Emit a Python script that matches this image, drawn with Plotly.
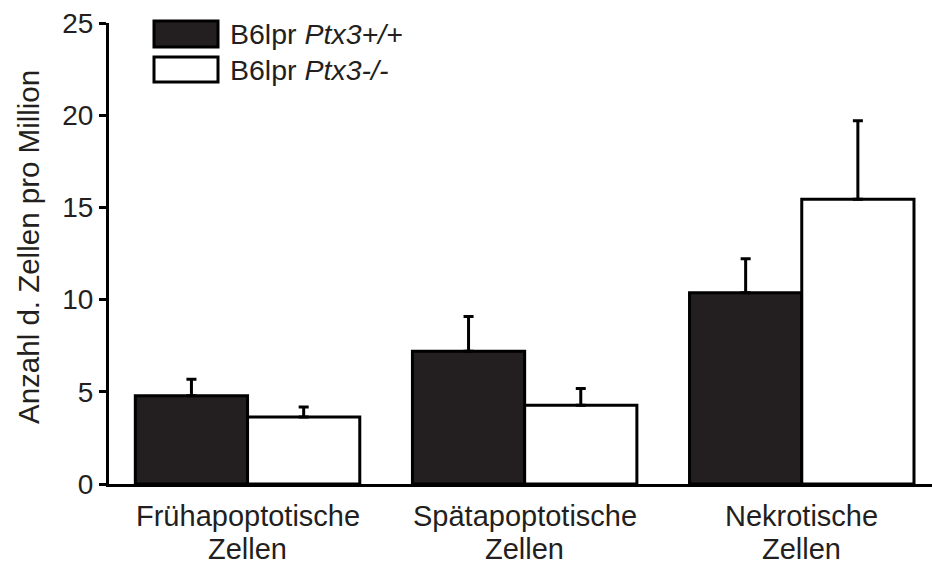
import plotly.graph_objects as go

cat_line1 = ["Frühapoptotische", "Spätapoptotische", "Nekrotische"]
cat_line2 = ["Zellen", "Zellen", "Zellen"]
categories = [f"{a} {b}" for a, b in zip(cat_line1, cat_line2)]
wt_values = [4.78, 7.20, 10.37]
wt_err = [0.90, 1.89, 1.84]
ko_values = [3.64, 4.27, 15.44]
ko_err = [0.54, 0.91, 4.26]
series_names = ["B6lpr <i>Ptx3+/+</i>", "B6lpr <i>Ptx3-/-</i>"]
y_ticks = [0, 5, 10, 15, 20, 25]
y_title = "Anzahl d. Zellen pro Million"

INK = "#231f20"
FONT = "Liberation Sans, Arial, sans-serif"
W, H = 932, 564
ML, MR, MT, MB = 109, 0, 23, 80

fig = go.Figure()
fig.add_trace(go.Bar(
    x=categories, y=wt_values, name=series_names[0],
    marker=dict(color=INK, line=dict(color="black", width=3)),
    error_y=dict(type="data", array=wt_err, arrayminus=[0] * len(wt_err),
                 symmetric=False, color="black", thickness=3, width=5),
    showlegend=False,
))
fig.add_trace(go.Bar(
    x=categories, y=ko_values, name=series_names[1],
    marker=dict(color="white", line=dict(color="black", width=3)),
    error_y=dict(type="data", array=ko_err, arrayminus=[0] * len(ko_err),
                 symmetric=False, color="black", thickness=3, width=5),
    showlegend=False,
))

pw, ph = W - ML - MR, H - MT - MB


def px_x(p):
    return (p - ML) / pw


def px_y(p):
    return (H - MB - p) / ph


# Legend swatches and labels
swatches = [("black", INK, 21, 47), ("black", "white", 57, 82)]
for (line_c, fill_c, y0, y1), label in zip(swatches, series_names):
    fig.add_shape(type="rect", xref="paper", yref="paper",
                  x0=px_x(154), x1=px_x(218), y0=px_y(y1), y1=px_y(y0),
                  line=dict(color=line_c, width=3), fillcolor=fill_c)
    fig.add_annotation(xref="paper", yref="paper", x=px_x(228), y=px_y((y0 + y1) / 2),
                       text=label, showarrow=False, xanchor="left", yanchor="middle",
                       font=dict(family=FONT, size=28.5, color=INK))

# Two-line category labels with tight line spacing
for cat, l1, l2 in zip(categories, cat_line1, cat_line2):
    for txt, ypx in ((l1, 516), (l2, 549)):
        fig.add_annotation(xref="x", yref="paper", x=cat, y=px_y(ypx),
                           text=txt, showarrow=False, xanchor="center", yanchor="middle",
                           font=dict(family=FONT, size=29, color=INK))

# Vertical y-axis title
fig.add_annotation(xref="paper", yref="paper", x=px_x(28), y=px_y(247),
                   text=y_title, textangle=-90, showarrow=False,
                   xanchor="center", yanchor="middle",
                   font=dict(family=FONT, size=29.5, color=INK))

fig.update_layout(
    width=W, height=H,
    margin=dict(l=ML, r=MR, t=MT, b=MB),
    paper_bgcolor="white", plot_bgcolor="white",
    barmode="group", bargap=0.19, bargroupgap=0,
    font=dict(family=FONT, size=28, color=INK),
)
fig.update_xaxes(
    range=[-0.5, 2.47], showline=True, linecolor="black", linewidth=3,
    ticks="", showgrid=False, zeroline=False, showticklabels=False,
    automargin=False,
)
fig.update_yaxes(
    range=[0, 25], tickvals=y_ticks, showline=True, linecolor="black", linewidth=3,
    ticks="outside", ticklen=7, tickwidth=3, tickcolor="black",
    showgrid=False, zeroline=False, automargin=False,
    tickfont=dict(size=28, color=INK),
)

fig.write_html("out.html")
